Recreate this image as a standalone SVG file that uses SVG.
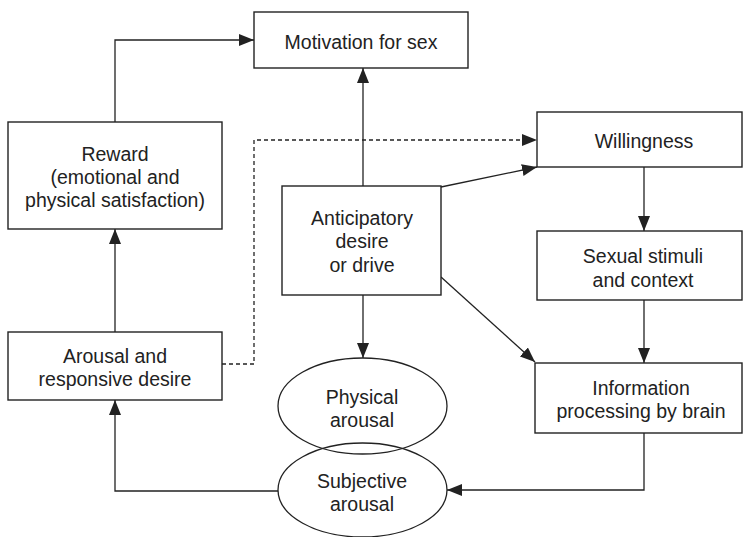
<svg xmlns="http://www.w3.org/2000/svg" width="743" height="537" viewBox="0 0 743 537">
<defs>
<marker id="ah" markerUnits="userSpaceOnUse" markerWidth="16" markerHeight="12" refX="15" refY="6" orient="auto">
<path d="M0,0 L15,6 L0,12 Z" fill="#222"/>
</marker>
<style>
.box{fill:#fff;stroke:#222;stroke-width:1.4}
.ell{fill:none;stroke:#222;stroke-width:1.3}
.c{fill:none;stroke:#222;stroke-width:1.3;marker-end:url(#ah)}
.d{stroke-dasharray:4,3}
text{font-family:"Liberation Sans",Arial,sans-serif;font-size:19.5px;fill:#222;text-anchor:middle}
</style>
</defs>
<rect width="743" height="537" fill="#fff"/>
<g id="connectors">
<path class="c" d="M115,122 V40 H254"/>
<path class="c" d="M363,186 V68"/>
<path class="c d" d="M222,364 H254 V140 H537"/>
<path class="c" d="M441,187 L537,167"/>
<path class="c" d="M644,167 V231"/>
<path class="c" d="M644,300 V363"/>
<path class="c" d="M441,277 L535,362"/>
<path class="c" d="M363,295 V358"/>
<path class="c" d="M644,433 V490 H447"/>
<path class="c" d="M278,491 H115 V400"/>
<path class="c" d="M115,332 V229"/>
</g>
<g id="motivation">
<rect class="box" x="254" y="12" width="214" height="56"/>
<text x="361" y="49">Motivation for sex</text>
</g>
<g id="reward">
<rect class="box" x="8" y="122" width="214" height="107"/>
<text x="115" y="161">Reward</text>
<text x="115" y="184">(emotional and</text>
<text x="115" y="207">physical satisfaction)</text>
</g>
<g id="willingness">
<rect class="box" x="537" y="112" width="205" height="55"/>
<text x="644" y="148">Willingness</text>
</g>
<g id="anticipatory">
<rect class="box" x="282" y="186" width="159" height="109"/>
<text x="362" y="225">Anticipatory</text>
<text x="362" y="248">desire</text>
<text x="362" y="272">or drive</text>
</g>
<g id="sexual-stimuli">
<rect class="box" x="537" y="231" width="205" height="69"/>
<text x="643" y="263">Sexual stimuli</text>
<text x="643" y="287">and context</text>
</g>
<g id="information">
<rect class="box" x="535" y="363" width="207" height="70"/>
<text x="641" y="395">Information</text>
<text x="641" y="418">processing by brain</text>
</g>
<g id="arousal-desire">
<rect class="box" x="8" y="332" width="214" height="68"/>
<text x="115" y="363">Arousal and</text>
<text x="115" y="386">responsive desire</text>
</g>
<g id="physical-arousal">
<ellipse class="ell" cx="362.5" cy="406" rx="84.5" ry="48"/>
<text x="362" y="404">Physical</text>
<text x="362" y="427">arousal</text>
</g>
<g id="subjective-arousal">
<ellipse class="ell" cx="362.5" cy="490" rx="84.5" ry="47"/>
<text x="362" y="488">Subjective</text>
<text x="362" y="511">arousal</text>
</g>
</svg>
